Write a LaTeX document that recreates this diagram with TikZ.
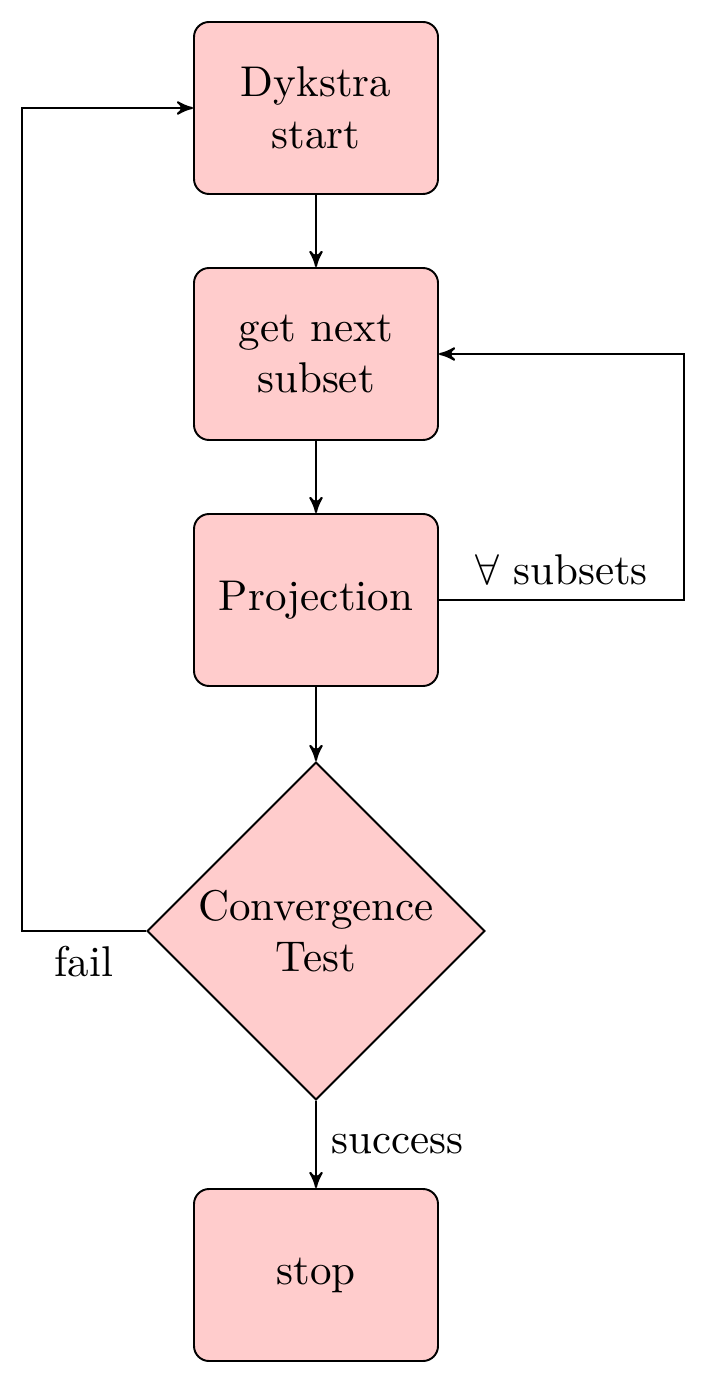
\documentclass[tikz,border=0pt]{standalone}
\usetikzlibrary{shapes.geometric,arrows}
\begin{document}
\begin{tikzpicture}[x=0.2326pt,y=-0.2326pt,
  >=stealth',
  every path/.style={line width=0.45pt},
  procbox/.style={draw, fill=red!20, rounded corners=3.5pt, align=center,
    minimum width={244*0.2326pt}, minimum height={172*0.2326pt}, inner sep=0pt},
  decide/.style={draw, fill=red!20, diamond, aspect=1, align=center, inner sep=0pt,
    minimum width={338*0.2326pt}, minimum height={338*0.2326pt}},
  conn/.style={->}]
\useasboundingbox (0,0) rectangle (707,1384);
\node[procbox] (b1) at (316,108) {Dykstra\\start};
\node[procbox] (b2) at (316,354) {get next\\subset};
\node[procbox] (b3) at (316,600) {Projection};
\node[decide] (conv) at (316,931) {Convergence\\Test};
\node[procbox] (stop) at (316,1275) {stop};
\coordinate (lx) at (22,0);
\coordinate (rx) at (684,0);
\draw[conn] (b1) -- (b2);
\draw[conn] (b2) -- (b3);
\draw[conn] (b3) -- (conv);
\draw[conn] (conv.south) -- node[right]{success} (stop.north);
\draw[conn] (conv.west) -- node[below]{fail} (conv.west -| lx) |- (b1.west);
\draw[conn] (b3.east) -- node[above]{$\forall$ subsets} (b3.east -| rx) |- (b2.east);
\end{tikzpicture}
\end{document}
